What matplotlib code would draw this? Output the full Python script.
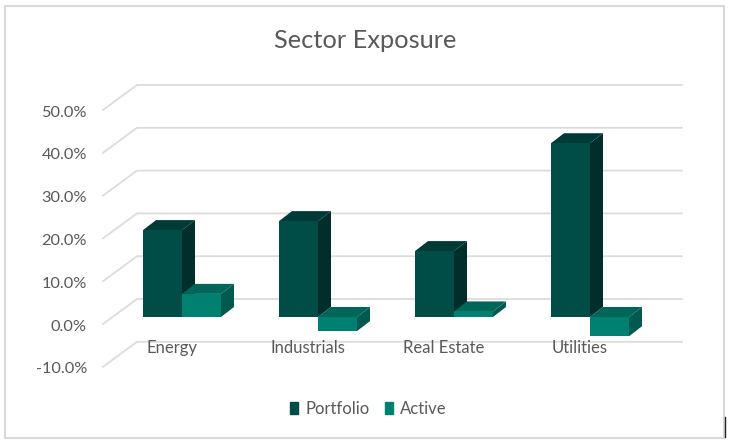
import matplotlib
matplotlib.use('Agg')
import matplotlib.pyplot as plt
from matplotlib.patches import Polygon, Rectangle

categories = ['Energy', 'Industrials', 'Real Estate', 'Utilities']
portfolio = [20.3, 22.4, 15.4, 40.6]
active = [5.4, -3.3, 1.3, -4.5]
y_ticks = [-10, 0, 10, 20, 30, 40, 50]

plt.rcParams['font.family'] = ['Lato', 'DejaVu Sans']
TEXT = '#595959'
GRID = '#dcdcdc'

# px per data unit
PX = 136.0
PY = 4.28
W, H = 729, 443
x0, y0 = 182, 317   # pixel of first group centre / zero on the bar plane

fig = plt.figure(figsize=(W / 100, H / 100), dpi=100)
ax = fig.add_axes([0, 0, 1, 1])
ax.set_xlim(-x0 / PX, (W - x0) / PX)
ax.set_ylim((y0 - H) / PY, y0 / PY)
ax.axis('off')

bw = 39 / PX
dx, dy = 13 / PX, 10 / PY   # bar depth


def bar3d(x, v, front, side, top, z):
    ax.bar(x, v, bw, align='edge', color=front, zorder=z + 1)
    ax.add_patch(Polygon([(x + bw, 0), (x + bw + dx, dy), (x + bw + dx, v + dy), (x + bw, v)], color=side, lw=0, zorder=z))
    hi = max(v, 0)
    ax.add_patch(Polygon([(x, hi), (x + dx, hi + dy), (x + bw + dx, hi + dy), (x + bw, hi)], color=top, lw=0, zorder=z))


# walls
left_back = (137 - x0) / PX
left_front = (103 - x0) / PX
right = (682 - x0) / PX
back = 18 / PY
front = -7 / PY
for t in y_ticks:
    ax.plot([left_front, left_back, right], [t + front, t + back, t + back], color=GRID, lw=1.3, zorder=1)
    ax.text(left_front - 16 / PX, t + front - 0.6, f'{t:.1f}%', ha='right', va='center', fontsize=11.8, color=TEXT)

for i, cat in enumerate(categories):
    bar3d(i - bw, portfolio[i], '#004d47', '#002e2b', '#003a36', 3)
    bar3d(i, active[i], '#008070', '#005a50', '#00665a', 5)
    ax.text(i - 10 / PX, -7.2, cat, ha='center', va='center', fontsize=12, color=TEXT, zorder=8)

ax.text((365 - x0) / PX, (y0 - 41) / PY, 'Sector Exposure', ha='center', va='center', fontsize=18.3, color=TEXT)

# legend
h = [Rectangle((0, 0), 1, 1, color='#004d47'), Rectangle((0, 0), 1, 1, color='#008070')]
fig.legend(h, ['Portfolio', 'Active'], ncol=2, loc='center', bbox_to_anchor=(368.5 / W, 1 - 409 / H), frameon=False,
           fontsize=12, labelcolor=TEXT, handlelength=0.45, handleheight=0.7, handletextpad=0.45, columnspacing=0.95)

# chart frame
fig.add_artist(Rectangle((5 / W, 1 - 437.5 / H), 719 / W, 431.5 / H, transform=fig.transFigure, fill=False, ec='#d9d9d9', lw=1.5))
fig.add_artist(plt.Line2D([725 / W, 725 / W], [1 - 437 / H, 1 - 417 / H], color='#222222', lw=1))

fig.savefig('out.png', dpi=100)
